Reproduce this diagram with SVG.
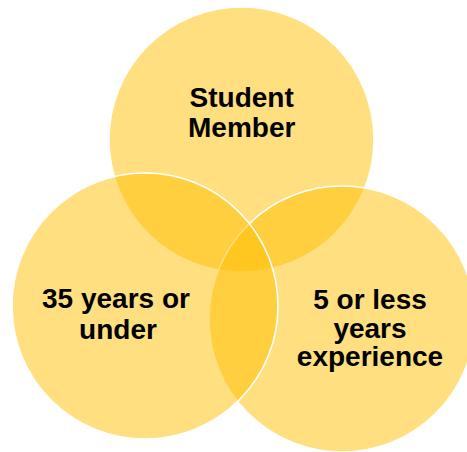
<svg xmlns="http://www.w3.org/2000/svg" width="467" height="452" viewBox="0 0 467 452">
  <style>
    .c { fill: #FFC000; fill-opacity: 0.5; stroke: #FFFFFF; stroke-width: 1.6; }
    .t { font-family: "Liberation Sans", Arial, sans-serif; font-weight: bold; font-size: 28px; fill: #000000; text-anchor: middle; }
  </style>
  <rect width="467" height="452" fill="#FFFFFF"/>
  <g id="node-student">
    <circle class="c" cx="241.5" cy="139.5" r="132.5" stroke="none"/>
  </g>
  <g id="node-experience">
    <circle class="c" cx="342" cy="319" r="133"/>
  </g>
  <g id="node-age">
    <circle class="c" cx="145" cy="306" r="133"/>
  </g>
  <g id="labels">
    <text class="t" x="241.7" y="106.7">Student</text>
    <text class="t" x="241.7" y="137.3">Member</text>
    <text class="t" x="116" y="308.3">35 years or</text>
    <text class="t" x="118" y="339.3">under</text>
    <text class="t" x="370" y="309">5 or less</text>
    <text class="t" x="370" y="337.5">years</text>
    <text class="t" x="370" y="366">experience</text>
  </g>
  <g id="connectors"></g>
</svg>
